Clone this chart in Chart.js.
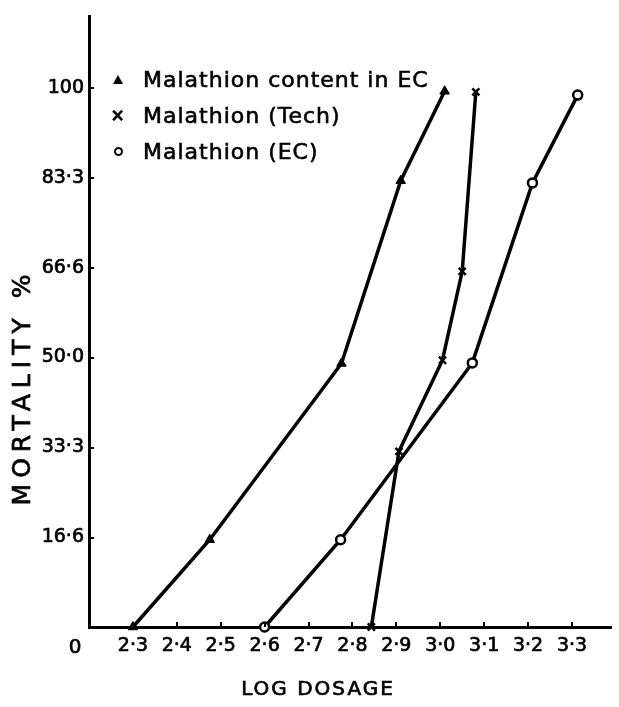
<!DOCTYPE html>
<html>
<head>
<script src="https://cdn.jsdelivr.net/npm/chart.js"></script>
<style>
    body {
        margin: 0;
        background-color: white;
        font-family: "DejaVu Sans", sans-serif;
    }
    .wrap {
        position: relative;
        width: 619px;
        height: 707px;
    }
    /* legend sits inside the plot, top left */
    .legend {
        position: absolute;
        left: 106px;
        top: 61px;
        font-size: 22px;
        letter-spacing: 1px;
        color: #000;
        -webkit-text-stroke: 0.6px #000;
    }
    .legend-item {
        display: flex;
        align-items: center;
        height: 36px;
    }
    .mark {
        width: 24px;
        margin-right: 13px;
        display: flex;
        justify-content: center;
        align-items: center;
    }
    .tri {
        width: 0;
        height: 0;
        border-left: 5px solid transparent;
        border-right: 5px solid transparent;
        border-bottom: 9px solid #000;
    }
    .cross {
        font-size: 17px;
        font-weight: bold;
        line-height: 1;
    }
    .circ {
        width: 5px;
        height: 5px;
        border: 2.5px solid #000;
        border-radius: 50%;
    }
</style>
</head>
<body>
<div class="wrap">
    <canvas id="myChart"></canvas>
    <div class="legend">
        <div class="legend-item"><div class="mark"><div class="tri"></div></div><span>Malathion content in EC</span></div>
        <div class="legend-item"><div class="mark"><span class="cross">×</span></div><span>Malathion (Tech)</span></div>
        <div class="legend-item"><div class="mark"><div class="circ"></div></div><span>Malathion (EC)</span></div>
    </div>
</div>

<script>
    const xTicks = [2.3, 2.4, 2.5, 2.6, 2.7, 2.8, 2.9, 3.0, 3.1, 3.2, 3.3];
    const xTickLabels = ['2·3', '2·4', '2·5', '2·6', '2·7', '2·8', '2·9', '3·0', '3·1', '3·2', '3·3'];
    const yTicks = [16.6, 33.3, 50, 66.6, 83.3, 100];
    const yTickLabels = ['16·6', '33·3', '50·0', '66·6', '83·3', '100'];

    // Malathion content in EC (triangles)
    const contentDose = [2.3, 2.475, 2.775, 2.91, 3.01];
    const contentMort = [0, 16.2, 48.9, 82.8, 99.4];
    // Malathion (Tech) (crosses)
    const techDose = [2.843, 2.906, 3.005, 3.05, 3.081];
    const techMort = [0, 32.6, 49.5, 66.0, 99.3];
    // Malathion (EC) (circles)
    const ecDose = [2.6, 2.773, 3.073, 3.21, 3.313];
    const ecMort = [0, 16.2, 49.0, 82.4, 98.7];

    const pairs = (xs, ys) => xs.map((x, i) => ({ x: x, y: ys[i] }));

    // text drawn a little heavier, like the printed figure
    function heavyText(ctx, txt, x, y) {
        ctx.fillText(txt, x, y);
        ctx.strokeText(txt, x, y);
    }

    // inside tick marks, origin "0" and the two axis titles
    const extras = {
        id: 'extras',
        afterDraw(chart) {
            const ctx = chart.ctx;
            const xs = chart.scales.x;
            const ys = chart.scales.y;
            const area = chart.chartArea;
            ctx.save();
            ctx.strokeStyle = '#000';
            ctx.lineWidth = 2;
            xTicks.forEach(v => {
                const px = Math.round(xs.getPixelForValue(v));
                ctx.beginPath();
                ctx.moveTo(px, area.bottom);
                ctx.lineTo(px, area.bottom - 5);
                ctx.stroke();
            });
            yTicks.forEach(v => {
                const py = Math.round(ys.getPixelForValue(v));
                ctx.beginPath();
                ctx.moveTo(area.left, py);
                ctx.lineTo(area.left + 5, py);
                ctx.stroke();
            });
            ctx.fillStyle = '#000';
            ctx.lineWidth = 0.7;
            ctx.font = '20px "DejaVu Sans"';
            ctx.textAlign = 'center';
            ctx.textBaseline = 'middle';
            heavyText(ctx, '0', 75, 648);

            ctx.letterSpacing = '2px';
            ctx.font = '20px "DejaVu Sans"';
            heavyText(ctx, 'LOG DOSAGE', 318, 690);

            ctx.translate(23, 387);
            ctx.rotate(-Math.PI / 2);
            ctx.letterSpacing = '6px';
            ctx.font = '25px "DejaVu Sans"';
            heavyText(ctx, 'MORTALITY %', 0, 0);
            ctx.restore();
        }
    };

    const line = {
        borderColor: '#000',
        borderWidth: 3.5,
        tension: 0,
        clip: false,
        pointBorderColor: '#000'
    };

    const tickFont = { family: 'DejaVu Sans', size: 19 };

    new Chart('myChart', {
        type: 'scatter',
        data: {
            datasets: [
                Object.assign({}, line, {
                    label: 'Malathion content in EC',
                    data: pairs(contentDose, contentMort),
                    showLine: true,
                    pointStyle: 'triangle',
                    pointRadius: 5.5,
                    pointBackgroundColor: '#000',
                    pointBorderWidth: 1
                }),
                Object.assign({}, line, {
                    label: 'Malathion (Tech)',
                    data: pairs(techDose, techMort),
                    showLine: true,
                    pointStyle: 'crossRot',
                    pointRadius: 5,
                    pointBorderWidth: 2.5
                }),
                Object.assign({}, line, {
                    label: 'Malathion (EC)',
                    data: pairs(ecDose, ecMort),
                    showLine: true,
                    pointStyle: 'circle',
                    pointRadius: 4.5,
                    pointBackgroundColor: '#fff',
                    pointBorderWidth: 2.5
                })
            ]
        },
        options: {
            responsive: true,
            maintainAspectRatio: false,
            animation: false,
            layout: { padding: { top: 12, right: 4, left: 0, bottom: 0 } },
            plugins: {
                legend: { display: false },
                tooltip: { enabled: false }
            },
            scales: {
                x: {
                    type: 'linear',
                    min: 2.2,
                    max: 3.39,
                    afterBuildTicks: s => { s.ticks = xTicks.map(v => ({ value: v })); },
                    afterFit: s => { s.height = 80; },
                    grid: { display: false, drawTicks: false },
                    border: { display: true, color: '#000', width: 3 },
                    ticks: {
                        autoSkip: false,
                        maxRotation: 0,
                        padding: 8,
                        color: '#000',
                        textStrokeColor: '#000',
                        textStrokeWidth: 0.7,
                        font: tickFont,
                        callback: (v, i) => xTickLabels[i]
                    }
                },
                y: {
                    min: 0,
                    max: 113.3,
                    afterBuildTicks: s => { s.ticks = yTicks.map(v => ({ value: v })); },
                    afterFit: s => { s.width = 89; },
                    grid: { display: false, drawTicks: false },
                    border: { display: true, color: '#000', width: 3 },
                    ticks: {
                        padding: 5,
                        color: '#000',
                        textStrokeColor: '#000',
                        textStrokeWidth: 0.7,
                        font: tickFont,
                        callback: (v, i) => yTickLabels[i]
                    }
                }
            }
        },
        plugins: [extras]
    });
</script>
</body>
</html>
